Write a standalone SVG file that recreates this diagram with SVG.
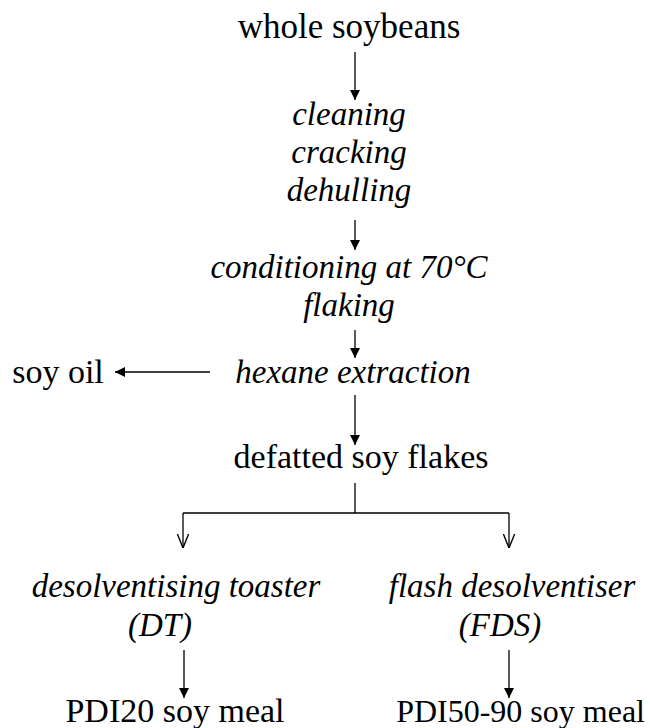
<svg xmlns="http://www.w3.org/2000/svg" width="650" height="728" viewBox="0 0 650 728">
<style>
text{font-family:"Liberation Serif","Times New Roman",serif;font-size:34px;fill:#000;text-anchor:middle}
.i{font-style:italic;font-size:33px}
.c line,.c path{stroke:#000;stroke-width:1.3;fill:none}
</style>
<defs>
<marker id="f" viewBox="0 0 10 10" refX="10" refY="5" markerWidth="10" markerHeight="11" markerUnits="userSpaceOnUse" orient="auto">
<path d="M0,0 L10,5 L0,10 Z" fill="#000"/>
</marker>
<marker id="o" viewBox="0 0 10 10" refX="10" refY="5" markerWidth="14" markerHeight="14" markerUnits="userSpaceOnUse" orient="auto">
<path d="M0,1 L10,5 L0,9" fill="none" stroke="#000" stroke-width="1"/>
</marker>
</defs>
<g id="n1"><text x="349" y="38" style="font-size:35px">whole soybeans</text></g>
<g id="n2"><text class="i" x="349" y="125">cleaning</text><text class="i" x="349" y="163">cracking</text><text class="i" x="349" y="201">dehulling</text></g>
<g id="n3"><text class="i" x="349" y="278">conditioning at 70°C</text><text class="i" x="349" y="316">flaking</text></g>
<g id="n4"><text class="i" x="353" y="383">hexane extraction</text></g>
<g id="n5"><text x="58" y="383">soy oil</text></g>
<g id="n6"><text x="361" y="468">defatted soy flakes</text></g>
<g id="n7"><text class="i" x="176" y="597">desolventising toaster</text><text class="i" x="160" y="636">(DT)</text></g>
<g id="n8"><text class="i" x="512" y="597">flash desolventiser</text><text class="i" x="500" y="636">(FDS)</text></g>
<g id="n9"><text x="175" y="722">PDI20 soy meal</text></g>
<g id="n10"><text x="645" y="722" style="text-anchor:end;font-size:32px">PDI50-90 soy meal</text></g>
<g class="c" id="connectors">
<line x1="355" y1="52" x2="355" y2="100" marker-end="url(#f)"/>
<line x1="355" y1="220" x2="355" y2="250" marker-end="url(#f)"/>
<line x1="355" y1="330" x2="355" y2="358" marker-end="url(#f)"/>
<line x1="210" y1="372" x2="115" y2="372" marker-end="url(#f)"/>
<line x1="355" y1="395" x2="355" y2="445" marker-end="url(#f)"/>
<path d="M355,483 V513 M183,513 H509"/>
<line x1="183" y1="513" x2="183" y2="548" marker-end="url(#o)"/>
<line x1="509" y1="513" x2="509" y2="548" marker-end="url(#o)"/>
<line x1="184" y1="650" x2="184" y2="698" marker-end="url(#f)"/>
<line x1="509" y1="650" x2="509" y2="698" marker-end="url(#f)"/>
</g>
</svg>
